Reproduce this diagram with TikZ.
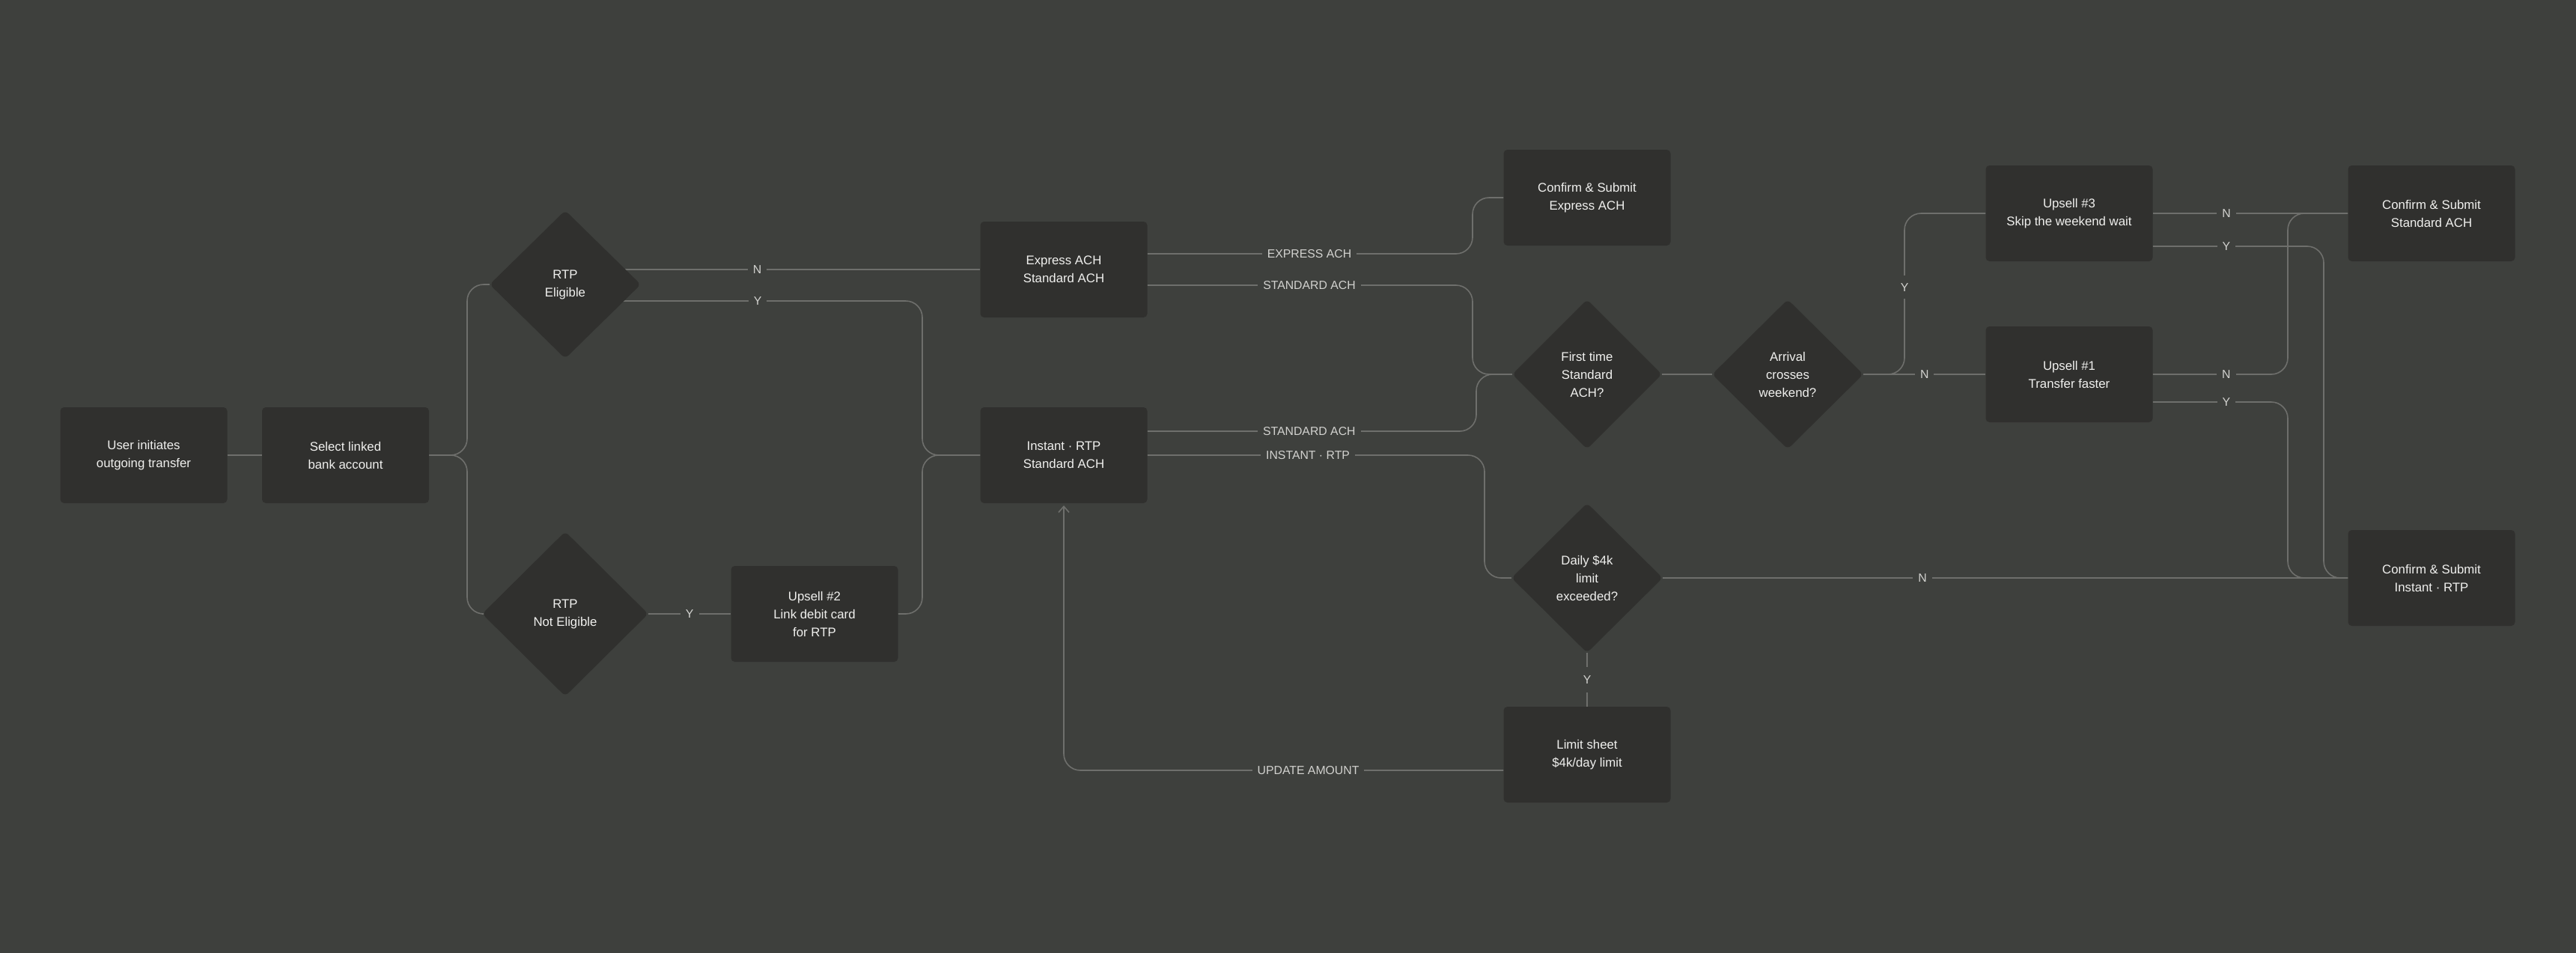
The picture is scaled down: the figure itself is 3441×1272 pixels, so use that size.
\documentclass[tikz,border=0pt]{standalone}
\usepackage{fontspec}
\setmainfont{Liberation Sans}
\usetikzlibrary{shapes.geometric,arrows.meta}

\definecolor{canvas}{HTML}{3E403D}
\definecolor{boxfill}{HTML}{30302E}
\definecolor{wire}{HTML}{6E6F6C}
\definecolor{ink}{HTML}{F0F0EE}
\definecolor{tag}{HTML}{D2D2CF}

\pgfdeclarelayer{back}
\pgfsetlayers{back,main}

\tikzset{
	stepbox/.style={rectangle, rounded corners=5pt, fill=boxfill, text=ink, align=center,
		minimum width=223pt, minimum height=128pt, font=\fontsize{16.8}{24}\selectfont},
	choice/.style={diamond, rounded corners=6pt, fill=boxfill, text=ink, align=center, inner sep=0pt,
		minimum width=202pt, minimum height=200pt, font=\fontsize{16.8}{24}\selectfont},
	link/.style={draw=wire, line width=1.6pt, rounded corners=22pt},
	lbl/.style={sharp corners, fill=canvas, text=tag, inner xsep=7pt, inner ysep=4pt,
		font=\fontsize{15.8}{18}\selectfont},
}

\begin{document}
\begin{tikzpicture}[x=1pt, y=-1pt]
				% Canvas
				\useasboundingbox (0,0) rectangle (3441,1272);
				\begin{pgfonlayer}{back}
					\fill[canvas] (-4,-4) rectangle (3445,1276);
				\end{pgfonlayer}

				% Entry
				\node[stepbox] (start) at (192,608) {User initiates\\outgoing transfer};
				\node[stepbox] (acct) at (461.5,608) {Select linked\\bank account};

				% RTP eligibility
				\node[choice, minimum height=198pt] (elig) at (755,380) {RTP\\Eligible};
				\node[choice, minimum width=222pt, minimum height=220pt] (noelig) at (755,820) {RTP\\Not Eligible};
				\node[stepbox] (upsell2) at (1088,820) {Upsell \#2\\Link debit card\\for RTP};

				% Speed options
				\node[stepbox] (expach) at (1421,360) {Express ACH\\Standard ACH};
				\node[stepbox] (instrtp) at (1421,608) {Instant · RTP\\Standard ACH};
				\node[stepbox] (doneexp) at (2120,264) {Confirm \& Submit\\Express ACH};
				\node[choice, minimum width=200pt] (firststd) at (2120,500) {First time\\Standard\\ACH?};
				\node[choice] (daily) at (2120,772) {Daily \$4k\\limit\\exceeded?};
				\node[stepbox] (limit) at (2120,1008) {Limit sheet\\\$4k/day limit};
				\node[choice] (weekend) at (2388,500) {Arrival\\crosses\\weekend?};

				% Upsells and submit
				\node[stepbox] (upsell3) at (2764,285) {Upsell \#3\\Skip the weekend wait};
				\node[stepbox] (upsell1) at (2764,500) {Upsell \#1\\Transfer faster};
				\node[stepbox] (donestd) at (3248,285) {Confirm \& Submit\\Standard ACH};
				\node[stepbox] (donertp) at (3248,772) {Confirm \& Submit\\Instant · RTP};

				\begin{pgfonlayer}{back}
					% Fork after account choice
					\draw[link] (start.east) -- (acct.west);
					\draw[link] (acct.east) -- (624,608) |- (elig.west);
					\draw[link] (acct.east) -- (624,608) |- (noelig.west);
					\draw[link] (elig.center |- expach.west) -- node[lbl, pos=0.463] {N} (expach.west);
					\draw[link] ([yshift=-22pt]elig.center) -- node[lbl, pos=0.539] {Y} (1232,402) |- (instrtp.west);
					\draw[link] (noelig.east) -- node[lbl] {Y} (upsell2.west);
					\draw[link] (upsell2.east) -- (1232,820) |- (instrtp.west);

					% Speed choices
					\draw[link] ([yshift=21pt]expach.east) -- node[lbl, pos=0.498] {EXPRESS ACH} (1967,339) |- (doneexp.west);
					\draw[link] ([yshift=-21pt]expach.east) -- node[lbl, pos=0.498] {STANDARD ACH} (1967,381) |- (firststd.west);
					\draw[link] ([yshift=32pt]instrtp.east) -- node[lbl, pos=0.492] {STANDARD ACH} (1972,576) |- (firststd.west);
					\draw[link] (instrtp.east) -- node[lbl, pos=0.476] {INSTANT · RTP} (1983,608) |- (daily.west);

					% Daily limit
					\draw[link] (daily.south) -- node[lbl, inner ysep=12pt] {Y} (limit.north);
					\draw[link] (daily.east) -- node[lbl, pos=0.379] {N} (donertp.west);
					\draw[link, -{Straight Barb[length=8pt, width=14pt]}, shorten >=3pt] ([yshift=-21pt]limit.west) -| node[lbl, pos=0.222] {UPDATE AMOUNT} (instrtp.south);

					% Weekend check
					\draw[link] (firststd.east) -- (weekend.west);
					\draw[link] (weekend.east) -- (2544,500) |- node[lbl, pos=0.27, inner ysep=10pt] {Y} (upsell3.west);
					\draw[link] (weekend.east) -- node[lbl] {N} (upsell1.west);

					% Upsell outcomes
					\draw[link] (upsell3.east) -- node[lbl, pos=0.377] {N} (donestd.west);
					\draw[link] ([yshift=-44pt]upsell3.east) -- node[lbl, pos=0.43] {Y} (3104,329) |- (donertp.west);
					\draw[link] (upsell1.east) -- node[lbl, pos=0.544] {N} (3056,500) |- (donestd.west);
					\draw[link] ([yshift=-37pt]upsell1.east) -- node[lbl, pos=0.544] {Y} (3056,537) |- (donertp.west);
				\end{pgfonlayer}
			\end{tikzpicture}
\end{document}
